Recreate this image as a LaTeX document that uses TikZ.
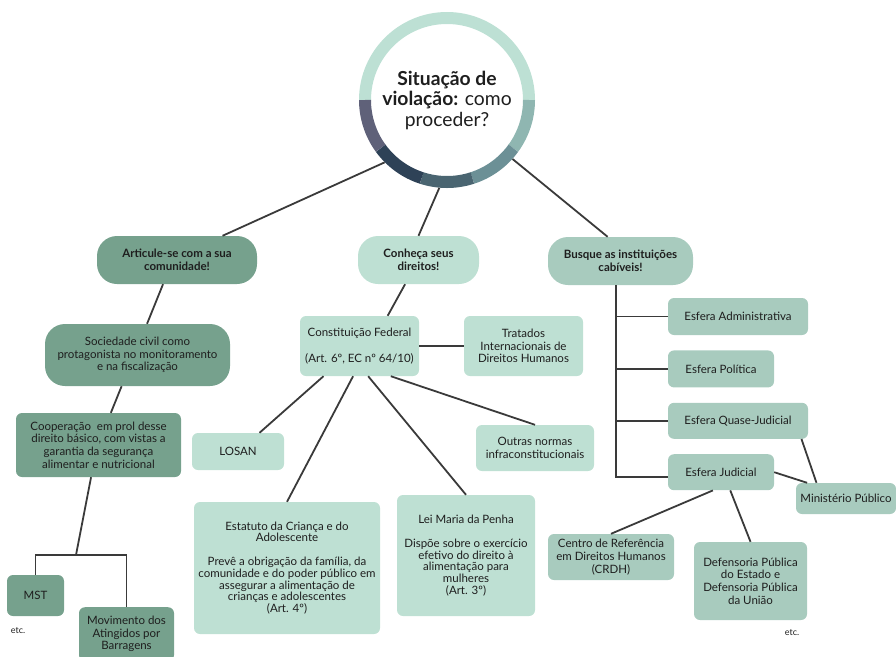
\documentclass[tikz,border=0pt]{standalone}
\usepackage{fontspec}
\setmainfont{Lato}
\usetikzlibrary{positioning}
\definecolor{deepgreen}{HTML}{76A18D}
\definecolor{sagemid}{HTML}{A8CBBE}
\definecolor{mintlight}{HTML}{BEE0D3}
\definecolor{inkgray}{HTML}{1E1E1E}
\definecolor{linkgray}{HTML}{3A3A3A}
\definecolor{ringmint}{HTML}{BDE0D4}
\definecolor{ringsage}{HTML}{8FB6B1}
\definecolor{ringteal}{HTML}{6C9096}
\definecolor{ringslate}{HTML}{4A6571}
\definecolor{ringnavy}{HTML}{2E4257}
\definecolor{ringplum}{HTML}{5F6179}

\begin{document}
\begin{tikzpicture}[
  x=1pt, y=1pt,
  font=\fontsize{11.5}{12.6}\selectfont,
  text=inkgray,
  bubble/.style={
    fill=#1,
    rounded corners=20pt,
    align=center,
    inner sep=0pt,
  },
  topic/.style={
    bubble=#1,
    font=\fontsize{11.5}{12.6}\selectfont\bfseries,
  },
  infobox/.style={
    fill=#1,
    rounded corners=6pt,
    align=center,
    inner sep=0pt,
  },
  tightbox/.style={
    infobox=#1,
    font=\fontsize{11.5}{11.8}\selectfont,
  },
  link/.style={
    draw=linkgray,
    line width=1.8pt,
  },
  etclabel/.style={
    font=\fontsize{9}{10}\selectfont,
  }
]
  \useasboundingbox (0,0) rectangle (896,-656);

  % === ROOT: situation circle ===
  \node[circle, minimum size=176pt, inner sep=0pt, align=center,
        font=\fontsize{19.3}{20.5}\selectfont] (sit) at (447,-100)
        {\textbf{Situação de}\\\textbf{violação:} como\\proceder?};
  \foreach \a/\b/\c in {0/180/ringmint, -36/0/ringsage, -72/-36/ringteal,
                        -108/-72/ringslate, -144/-108/ringnavy, -180/-144/ringplum}
    \draw[\c, line width=12pt] (sit.center) ++(\a:82) arc[start angle=\a, end angle=\b, radius=82];

  % === LEVEL 1 ===
  \node[topic=deepgreen, minimum width=160pt, minimum height=48pt] (art) at (177,-260) {Articule-se com a sua\\comunidade!};
  \node[topic=mintlight, minimum width=121pt, minimum height=48pt] (con) at (418.5,-260) {Conheça seus\\direitos!};
  \node[topic=sagemid, minimum width=145pt, minimum height=48pt] (bus) at (620.5,-261) {Busque as instituições\\cabíveis!};

  \draw[link] (sit.-135) -- (art.28);
  \draw[link] (sit.-95) -- (con.north);
  \draw[link] (sit.-42) -- (bus.118);

  % === COMMUNITY (left) ===
  \node[bubble=deepgreen, minimum width=185pt, minimum height=62pt] (soc) at (137.5,-355) {Sociedade civil como\\protagonista no monitoramento\\e na fiscalização};
  \node[infobox=deepgreen, minimum width=165pt, minimum height=64pt] (coop) at (98.5,-445) {Cooperação\ \ em prol desse\\direito básico, com vistas a\\garantia da segurança\\alimentar e nutricional};
  \node[infobox=deepgreen, minimum width=57pt, minimum height=41pt] (mst) at (35.5,-595.5) {MST};
  \node[infobox=deepgreen, minimum width=95pt, minimum height=54pt, anchor=north] (mab) at (126.5,-607) {Movimento dos\\Atingidos por\\Barragens};
  \node[etclabel] (etc-l) at (18,-631) {etc.};
  \coordinate (fork) at (76,-555);

  \draw[link] (art.-120) -- (soc.73);
  \draw[link] (soc.-117) -- (coop.69);
  \draw[link] (coop.-103) -- (fork);
  \draw[link] (mst.north) |- (mab.north |- fork) -- (mab.north);

  % === RIGHTS (center) ===
  \node[infobox=mintlight, minimum width=119pt, minimum height=60pt] (cf) at (359.5,-346) {Constituição Federal\\[13pt](Art. 6º, EC nº 64/10)};
  \node[infobox=mintlight, minimum width=119pt, minimum height=60pt] (trat) at (523.5,-346) {Tratados\\Internacionais de\\Direitos Humanos};
  \node[infobox=mintlight, minimum width=92pt, minimum height=37pt] (losan) at (238,-451.5) {LOSAN};
  \node[infobox=mintlight, minimum width=118pt, minimum height=46pt] (outras) at (535,-448) {Outras normas\\infraconstitucionais};
  \node[tightbox=mintlight, minimum width=186pt, minimum height=132pt] (eca) at (287,-568) {Estatuto da Criança e do\\Adolescente\\[11.8pt]Prevê a obrigação da família, da\\comunidade e do poder público em\\assegurar a alimentação de\\crianças e adolescentes\\(Art. 4º)};
  \node[tightbox=mintlight, minimum width=138pt, minimum height=121pt] (lmp) at (466,-555.5) {Lei Maria da Penha\\[12pt]Dispõe sobre o exercício\\efetivo do direito à\\alimentação para\\mulheres\\(Art. 3º)};

  \draw[link] (con.-119) -- (cf.47.5);
  \draw[link] (cf.east) -- (trat.west);
  \draw[link] (cf.-140) -- (losan.41);
  \draw[link] (cf.-102) -- (eca.north);
  \draw[link] (cf.-74) -- (lmp.north);
  \draw[link] (cf.-44) -- (outras.north);

  % === INSTITUTIONS (right) ===
  \node[infobox=sagemid, minimum width=140pt, minimum height=37pt] (adm) at (738,-316.5) {Esfera Administrativa};
  \node[infobox=sagemid, minimum width=106pt, minimum height=37pt, below right=15pt and 0pt of adm.south west] (pol) {Esfera Política};
  \node[infobox=sagemid, minimum width=140pt, minimum height=36pt, below right=15pt and 0pt of pol.south west] (qj) {Esfera Quase-Judicial};
  \node[infobox=sagemid, minimum width=106pt, minimum height=36pt, below right=15pt and 0pt of qj.south west] (jud) {Esfera Judicial};
  \node[infobox=sagemid, minimum width=100pt, minimum height=31pt] (mp) at (846,-498.5) {Ministério Público};
  \node[infobox=sagemid, minimum width=126pt, minimum height=46pt] (crdh) at (611,-557) {Centro de Referência\\em Direitos Humanos\\(CRDH)};
  \node[infobox=sagemid, minimum width=113pt, minimum height=78pt] (def) at (750.5,-581) {Defensoria Pública\\do Estado e\\Defensoria Pública\\da União};
  \node[etclabel] (etc-r) at (792,-633) {etc.};
  \coordinate (spine) at (616,-477);

  \draw[link] (bus.south -| spine) -- (spine) -- (spine -| jud.west);
  \foreach \n in {adm, pol, qj}
    \draw[link] (\n.west -| spine) -- (\n.west);
  \draw[link] (jud.east) -- (mp.158);
  \draw[link] (qj.-16) -- (mp.152);
  \draw[link] (jud.-114) -- (crdh.north);
  \draw[link] (jud.-63) -- (def.north);

\end{tikzpicture}
\end{document}
